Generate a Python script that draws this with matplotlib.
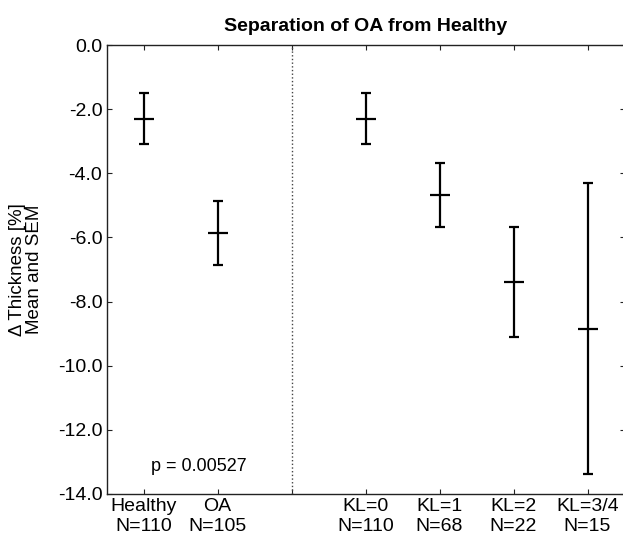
import matplotlib
matplotlib.use("Agg")
import matplotlib.pyplot as plt

categories = ["Healthy\nN=110", "OA\nN=105", "", "KL=0\nN=110", "KL=1\nN=68", "KL=2\nN=22", "KL=3/4\nN=15"]
positions = [1, 2, 4, 5, 6, 7]
means = [-2.30, -5.86, -2.30, -4.68, -7.39, -8.84]
sems = [0.80, 0.99, 0.80, 1.01, 1.73, 4.53]
yticks = [0, -2, -4, -6, -8, -10, -12, -14]
p_text = "p = 0.00527"

plt.rcParams['font.family'] = ['Liberation Sans', 'DejaVu Sans']

fig = plt.figure(figsize=(6.23, 5.38), dpi=100)
ax = fig.add_axes([106.5/623, 44/538, 518/623, 449/538])

ax.errorbar(positions, means, yerr=sems, fmt='none', ecolor='black',
            elinewidth=1.6, capsize=3.6, capthick=1.6)
ax.plot(positions, means, linestyle='none', marker='_', markersize=14,
        markeredgewidth=1.6, color='black')
ax.axvline(3, color='#444444', linestyle=':', linewidth=1.0)

ax.set_xlim(0.5, 7.5)
ax.set_ylim(-14, 0)
ax.set_xticks(range(1, 8))
ax.set_xticklabels(categories, fontsize=14, linespacing=1.2)
ax.set_yticks(yticks)
ax.set_yticklabels([f"{v:.1f}" for v in yticks], fontsize=14)
ax.tick_params(direction='in', length=3.6, width=0.8, top=True, right=True,
               colors='#222222', labelcolor='black', pad=3)
for s in ax.spines.values():
    s.set_linewidth(1.0)
    s.set_color('#222222')

ax.set_title("Separation of OA from Healthy", fontsize=14, fontweight='bold', pad=10)
ax.set_ylabel("\u0394 Thickness [%]\nMean and SEM", fontsize=13.5, linespacing=1.05)
ax.yaxis.set_label_coords(-0.122, 0.5)
ax.text(1.1, -13.13, p_text, fontsize=13, va='center', ha='left')

fig.savefig("out.png", dpi=100)
